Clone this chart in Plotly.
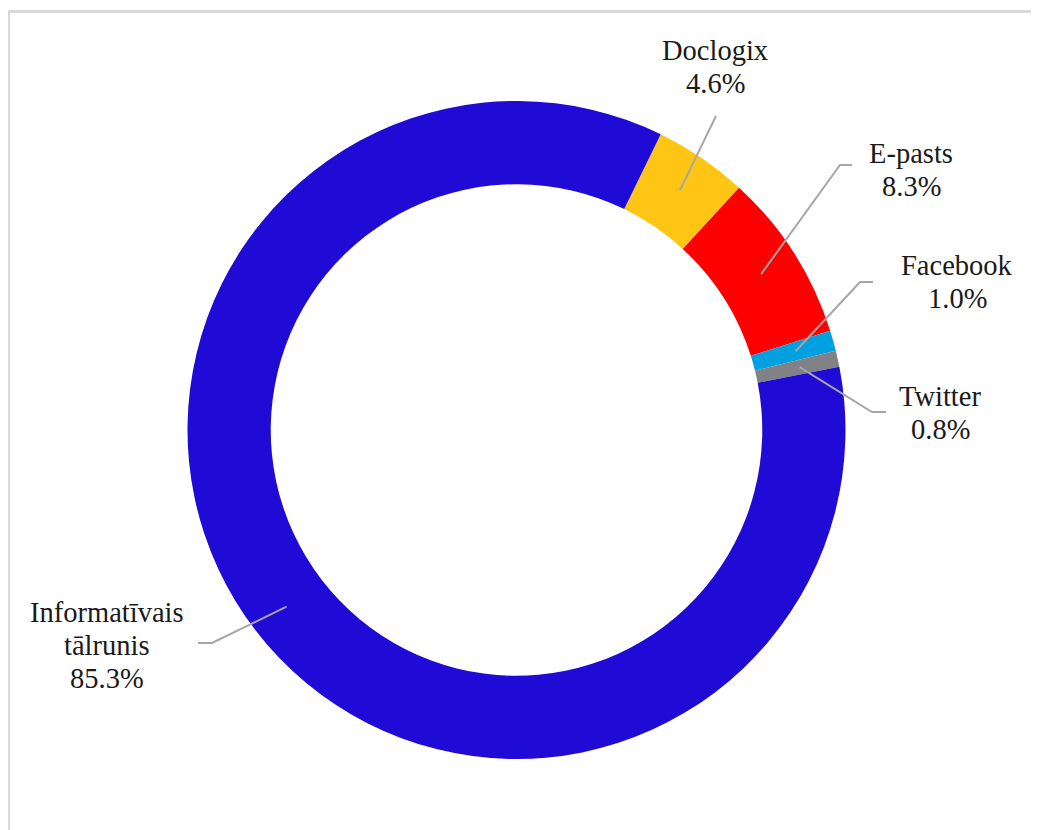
import math
import plotly.graph_objects as go

# ---- data ----
categories = ["Doclogix", "E-pasts", "Facebook", "Twitter", "Informatīvais tālrunis"]
label_lines = [["Doclogix"], ["E-pasts"], ["Facebook"], ["Twitter"], ["Informatīvais", "tālrunis"]]
values = [4.6, 8.3, 1.0, 0.8, 85.3]
colors = ["#FFC514", "#FF0000", "#00A0E1", "#808286", "#1F0AD6"]

# ---- layout constants (page pixels) ----
OFF = 8  # default page body margin
W, H = 1039 - OFF, 830 - OFF
CX, CY, R = 516.5, 430.0, 329.0
HOLE = 0.747
ROTATION = 26.0
LEADER_R = 290.0
# label centre (x, y of first line), elbow point, end point of leader
label_pos = [(715, 50), (911, 153), (957, 266), (940, 396), (107, 612)]
elbows = [(716, 116), (840, 165), (860, 282), (872, 412), (212, 643)]
ends = [(716, 116), (852, 165), (873, 282), (886, 412), (198, 643)]
LINE_STEP = 33
FONT = dict(family="Liberation Serif, Times New Roman, serif", size=28.5, color="#1a1a1a")


def px(x):
    return (x - OFF) / W


def py(y):
    return 1 - (y - OFF) / H


fig = go.Figure(go.Pie(
    labels=categories,
    values=values,
    marker=dict(colors=colors, line=dict(width=0)),
    hole=HOLE,
    sort=False,
    direction="clockwise",
    rotation=ROTATION,
    textinfo="none",
    showlegend=False,
    domain=dict(x=[px(CX - R), px(CX + R)], y=[py(CY + R), py(CY - R)]),
))

total = sum(values)
annotations = []
shapes = []
cum = 0.0
for i, v in enumerate(values):
    mid = ROTATION + (cum + v / 2) / total * 360.0
    cum += v
    a = math.radians(mid)
    sx = CX + LEADER_R * math.sin(a)
    sy = CY - LEADER_R * math.cos(a)
    ex, ey = elbows[i]
    fx, fy = ends[i]
    path = f"M {px(sx)} {py(sy)} L {px(ex)} {py(ey)} L {px(fx)} {py(fy)}"
    shapes.append(dict(type="path", xref="paper", yref="paper", path=path,
                       line=dict(color="#A6A6A6", width=2)))
    lines = label_lines[i] + [f"{v:.1f}%"]
    lx, ly = label_pos[i]
    for j, t in enumerate(lines):
        annotations.append(dict(x=px(lx), y=py(ly + j * LINE_STEP), xref="paper", yref="paper",
                                text=t, showarrow=False, font=FONT,
                                xanchor="center", yanchor="middle"))

# frame (top and left edges)
shapes.append(dict(type="line", xref="paper", yref="paper", x0=px(7), x1=px(1039),
                   y0=py(11.5), y1=py(11.5), line=dict(color="#D9D9D9", width=3)))
shapes.append(dict(type="line", xref="paper", yref="paper", x0=px(8.5), x1=px(8.5),
                   y0=py(10), y1=py(830), line=dict(color="#D9D9D9", width=3)))

fig.update_layout(
    width=W, height=H,
    margin=dict(l=0, r=0, t=0, b=0),
    paper_bgcolor="white", plot_bgcolor="white",
    annotations=annotations, shapes=shapes,
)

fig.write_html("out.html")
